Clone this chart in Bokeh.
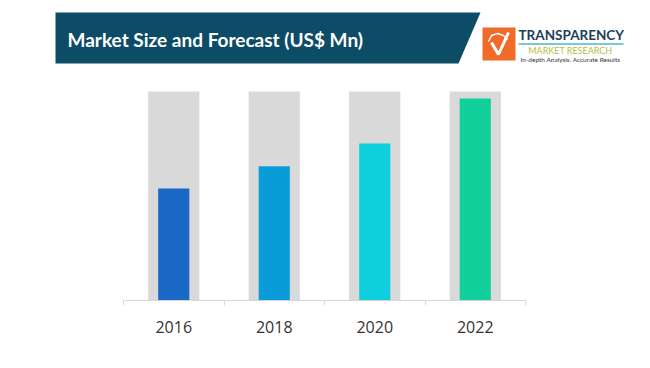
from bokeh.plotting import figure
from bokeh.models import Range1d, LinearAxis, FixedTicker
from bokeh.core.properties import value
from bokeh.embed import file_html
from bokeh.resources import INLINE

# ---- data ----
years = ["2016", "2018", "2020", "2022"]
market_size = [53.6, 64.2, 75.1, 96.6]      # relative market size (US$ Mn, scaled)
max_scale = [100, 100, 100, 100]            # background (gray) bars
bar_colors = ["#1a68c6", "#0a9cd8", "#10cfdc", "#12d09b"]
title = "Market Size and Forecast (US$ Mn)"

W, H = 650, 368
AXIS_Y = 300                   # pixel row of the x axis
LEFT, RIGHT = 123, 525         # pixel extent of the category band
n = len(years)
ppu = (RIGHT - LEFT) / n       # pixels per category
centers = [i + 0.5 for i in range(n)]
bounds_ticks = list(range(n + 1))

p = figure(width=W, height=H, output_backend="svg", toolbar_location=None,
           x_range=Range1d(-LEFT / ppu, n + (W - RIGHT) / ppu),
           y_range=Range1d(0, AXIS_Y / 2.09),
           x_axis_location=None, y_axis_location=None,
           min_border_left=0, min_border_right=0, min_border_top=0,
           min_border_bottom=H - AXIS_Y)
p.grid.visible = False
p.outline_line_color = None
# pixel-coordinate ranges for the banner / logo decoration
p.extra_x_ranges = {"px": Range1d(0, W)}
p.extra_y_ranges = {"px": Range1d(AXIS_Y, 0)}

p.vbar(x=centers, top=max_scale, width=0.51, fill_color="#d9d9d9", line_color=None)
p.vbar(x=centers, top=market_size, width=0.31, fill_color=bar_colors, line_color=None)

xaxis = LinearAxis(ticker=FixedTicker(ticks=centers, minor_ticks=bounds_ticks), bounds=(0, n),
                   major_label_overrides={c: y for c, y in zip(centers, years)},
                   axis_line_color="#d9d9d9",
                   major_tick_line_color=None, major_tick_in=0, major_tick_out=0,
                   minor_tick_line_color="#d9d9d9", minor_tick_in=0, minor_tick_out=5,
                   major_label_standoff=15,
                   major_label_text_font="Open Sans",
                   major_label_text_font_size="16px", major_label_text_color="#333333")
p.add_layout(xaxis, "below")

# ---- header banner ----
px = dict(x_range_name="px", y_range_name="px")
p.patch([55, 480, 458, 55], [12, 12, 63, 63], fill_color="#0d4c66", line_color=None, **px)
p.text(x=[67], y=[38.5], text=[title], text_baseline="middle", text_align="left",
       text_font=value("Lato"), text_font_style="bold", text_font_size="19px",
       text_color="white", **px)

# ---- logo ----
p.quad(left=[482], right=[515], top=[27], bottom=[60], fill_color="#f26a2a", line_color=None, **px)
p.line([491, 498, 508], [42, 54, 32], line_color="white", line_width=3, **px)
p.line([488, 491, 497, 503, 507], [41, 35, 33, 35, 39], line_color="white", line_width=1.5, **px)
p.text(x=[518], y=[34.5], text=["TRANSPARENCY"], text_baseline="middle",
       text_font=value("Lato"), text_font_style="bold", text_font_size="13.5px",
       text_color="#1e3d5c", **px)
p.line([518, 623], [43.5, 43.5], line_color="#4fb3cf", line_width=1.5, **px)
p.text(x=[571], y=[49.5], text=["MARKET  RESEARCH"], text_baseline="middle", text_align="center",
       text_font=value("Lato"), text_font_size="9px", text_color="#b5c13a", **px)
p.text(x=[570], y=[59], text=["In-depth Analysis. Accurate Results"], text_baseline="middle",
       text_align="center", text_font=value("Lato"), text_font_size="6.5px",
       text_color="#333333", **px)

open("out.html", "w").write(file_html(p, INLINE))
